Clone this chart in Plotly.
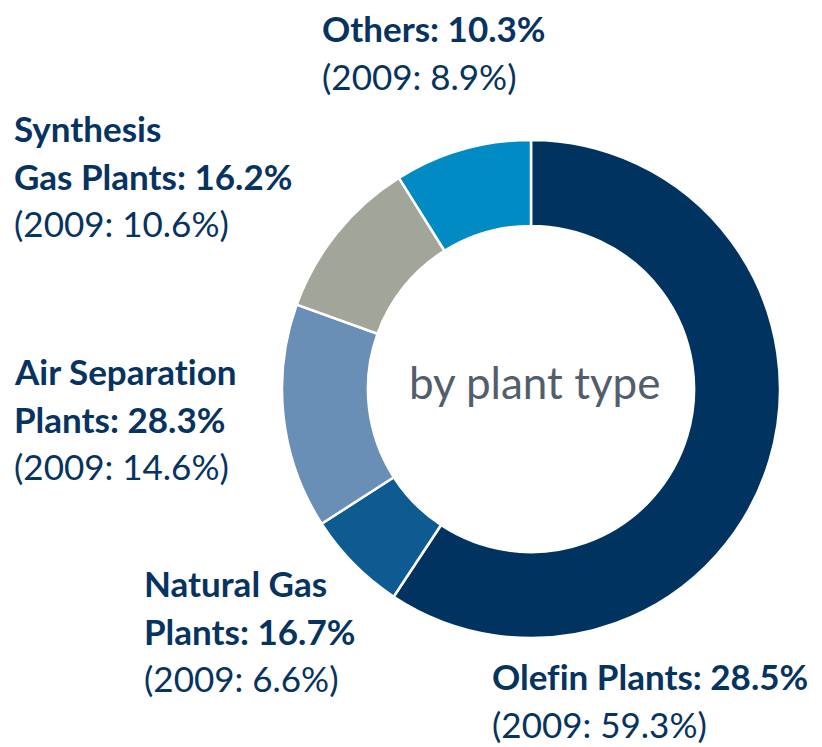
import plotly.graph_objects as go

# Order of plant types around the ring (clockwise from 12 o'clock)
categories = ["Olefin Plants", "Natural Gas Plants", "Air Separation Plants",
              "Synthesis Gas Plants", "Others"]
share_2010 = [28.5, 16.7, 28.3, 16.2, 10.3]
share_2009 = [59.3, 6.6, 14.6, 10.6, 8.9]

# How each category name is broken across lines in its label
name_lines = [["Olefin Plants"], ["Natural Gas", "Plants"], ["Air Separation", "Plants"],
              ["Synthesis", "Gas Plants"], ["Others"]]

slice_colors = ["#00335f", "#0e5b91", "#6a8fb6", "#a2a59a", "#008bc5"]

W, H = 822, 747
TEXT_COLOR = "#06335f"
FONT = "Lato"
ZWNJ = "\u200c"  # keeps "fi" / "ti" from turning into ligatures

# Label block placement: left edge and first baseline, in pixels
label_pos = [(490, 688), (142, 595), (12, 383), (12, 140), (320, 40)]
LINE_GAP = 47.5
SIZE = 35

fig = go.Figure()
fig.add_trace(go.Pie(
    labels=categories,
    values=share_2009,
    sort=False,
    direction="clockwise",
    rotation=0,
    hole=0.655,
    marker=dict(colors=slice_colors, line=dict(color="white", width=2.5)),
    textinfo="none",
    hoverinfo="label+value",
    showlegend=False,
    domain=dict(x=[282 / W, 780 / W], y=[1 - 638 / H, 1 - 140 / H]),
))


def no_lig(s):
    return s.replace("fi", "f" + ZWNJ + "i").replace("ti", "t" + ZWNJ + "i")


def add_line(text, x_px, baseline_px, bold):
    text = no_lig(text)
    fig.add_annotation(
        x=x_px / W, y=1 - (baseline_px - 0.34 * SIZE) / H,
        xref="paper", yref="paper", xanchor="left", yanchor="middle",
        text=f"<b>{text}</b>" if bold else text,
        showarrow=False,
        font=dict(family=FONT, size=SIZE, color=TEXT_COLOR),
    )


for names, v10, v09, (lx, by) in zip(name_lines, share_2010, share_2009, label_pos):
    lines = names[:-1] + [f"{names[-1]}: {v10:.1f}%"]
    for i, t in enumerate(lines):
        add_line(t, lx, by + i * LINE_GAP, True)
    add_line(f"(2009: {v09:.1f}%)", lx, by + len(lines) * LINE_GAP, False)

fig.add_annotation(
    x=534 / W, y=1 - 382 / H, xref="paper", yref="paper",
    xanchor="center", yanchor="middle", showarrow=False,
    text="by plant type",
    font=dict(family=FONT, size=44, color="#535e6c"),
)

fig.update_layout(
    width=W, height=H,
    margin=dict(l=0, r=0, t=0, b=0),
    paper_bgcolor="white", plot_bgcolor="white",
)

fig.write_html("out.html")
